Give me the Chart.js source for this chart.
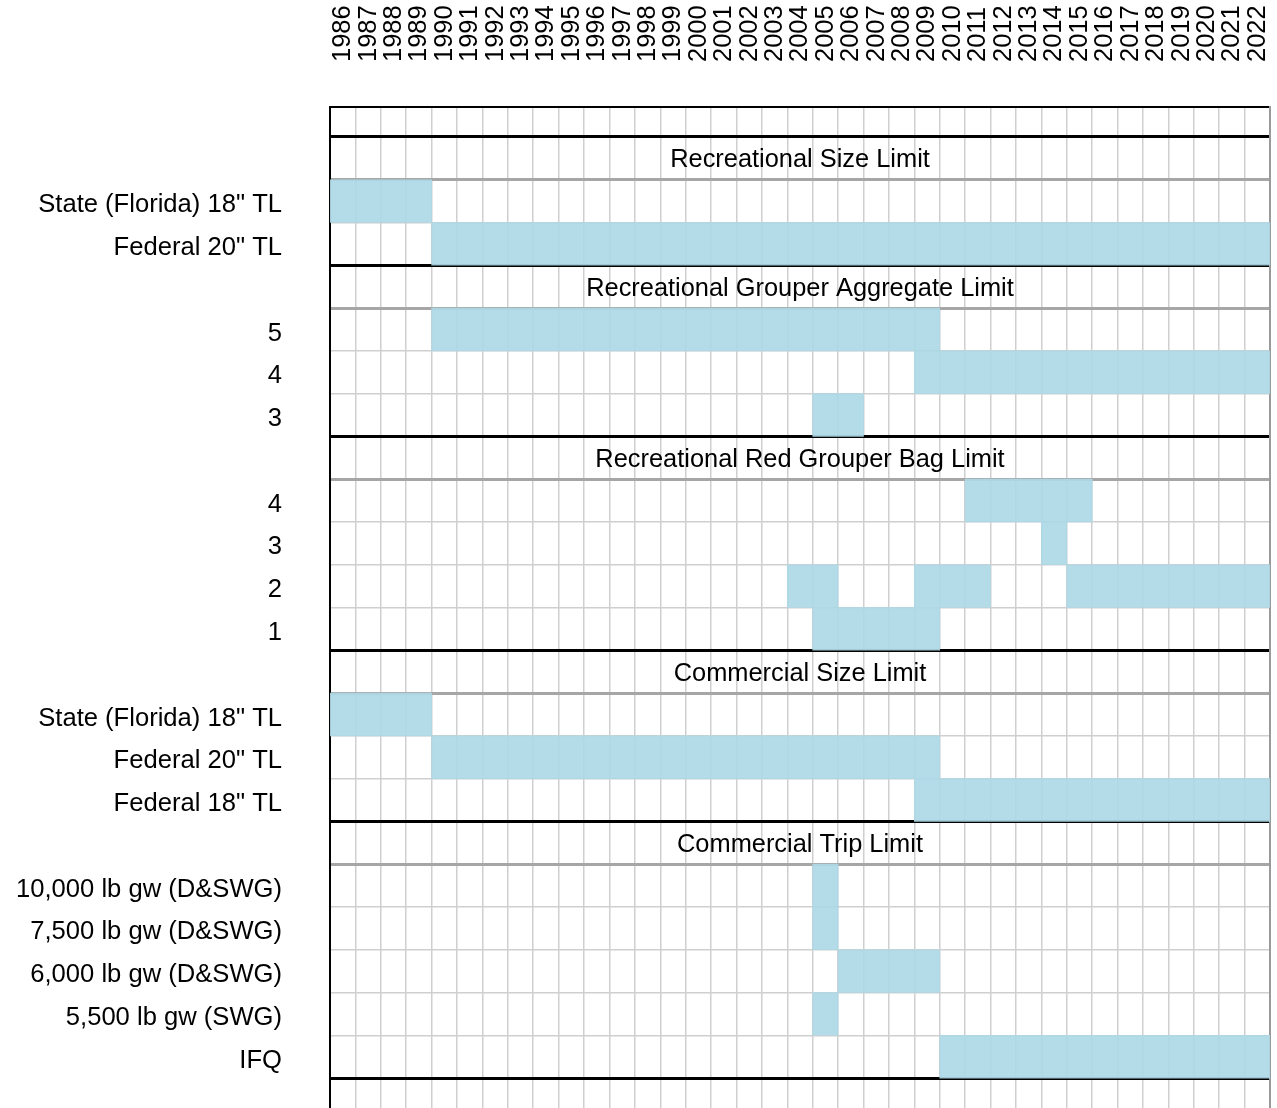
<!DOCTYPE html>
<html><head><meta charset="utf-8">
<script src="https://cdn.jsdelivr.net/npm/chart.js@4/dist/chart.umd.min.js"></script>
<style>html,body{margin:0;padding:0;background:#fff;} canvas{display:block;}</style>
</head><body>
<canvas id="c" width="1277" height="1108"></canvas>
<script>
// ---------- DATA ----------
const yearLabels = ['1986','1987','1988','1989','1990','1991','1992','1993','1994','1995','1996','1997','1998','1999','2000','2001','2002','2003','2004','2005','2006','2007','2008','2009','2010','2011','2012','2013','2014','2015','2016','2017','2018','2019','2020','2021','2022'];

const sectionTitles = ['Recreational Size Limit','Recreational Grouper Aggregate Limit','Recreational Red Grouper Bag Limit','Commercial Size Limit','Commercial Trip Limit'];

const recSizeRows  = ['State (Florida) 18" TL','Federal 20" TL'];
const recSizeSpans = [[[1986,1989]], [[1990,2022]]];

const recAggRows  = ['5','4','3'];
const recAggSpans = [[[1990,2009]], [[2009,2022]], [[2005,2006]]];

const recBagRows  = ['4','3','2','1'];
const recBagSpans = [[[2011,2015]], [[2014,2014]], [[2004,2005],[2009,2011],[2015,2022]], [[2005,2009]]];

const comSizeRows  = ['State (Florida) 18" TL','Federal 20" TL','Federal 18" TL'];
const comSizeSpans = [[[1986,1989]], [[1990,2009]], [[2009,2022]]];

const comTripRows  = ['10,000 lb gw (D&SWG)','7,500 lb gw (D&SWG)','6,000 lb gw (D&SWG)','5,500 lb gw (SWG)','IFQ'];
const comTripSpans = [[[2005,2005]], [[2005,2005]], [[2006,2009]], [[2005,2005]], [[2010,2022]]];

// ---------- BUILD TABLE ----------
const sectionRows  = [recSizeRows, recAggRows, recBagRows, comSizeRows, comTripRows];
const sectionSpans = [recSizeSpans, recAggSpans, recBagSpans, comSizeSpans, comTripSpans];
const rowLabels = [];
const headerRows = [];
const cells = [];
sectionTitles.forEach((title, s) => {
  headerRows.push({row: rowLabels.length, text: title});
  rowLabels.push('');
  sectionRows[s].forEach((lab, r) => {
    const row = rowLabels.length;
    rowLabels.push(lab);
    sectionSpans[s][r].forEach(([a, b]) => cells.push({x: [a - 0.5, b + 0.5], y: row + 0.5}));
  });
});
const nRows = rowLabels.length;
const firstYear = +yearLabels[0];
const lastYear = +yearLabels[yearLabels.length - 1];
const sectionTops = headerRows.map(h => h.row).concat([nRows]);
const headerBottoms = headerRows.map(h => h.row + 1);

const FONT = "'Liberation Sans', Arial, sans-serif";
const Y_MIN = -0.7, Y_MAX = nRows + 0.7;
const tickVal = c => (c && c.tick) ? c.tick.value : null;
const boundaryTicks = s => { s.ticks = Array.from({length: nRows + 1}, (_, i) => ({value: i})); };

const headerTitles = {
  id: 'headerTitles',
  afterDatasetsDraw(chart) {
    const {ctx, chartArea} = chart;
    const ys = chart.scales.y;
    ctx.save();
    ctx.font = '25.4px ' + FONT;
    ctx.fillStyle = '#000';
    ctx.textAlign = 'center';
    ctx.textBaseline = 'middle';
    headerRows.forEach(h => ctx.fillText(h.text, (chartArea.left + chartArea.right) / 2, ys.getPixelForValue(h.row + 0.5) + 2));
    ctx.restore();
  }
};

new Chart(document.getElementById('c'), {
  type: 'bar',
  data: {
    datasets: [{
      data: cells,
      backgroundColor: 'rgba(173,216,230,0.92)',
      borderWidth: 0,
      categoryPercentage: 1,
      barPercentage: 1,
      xAxisID: 'x',
      yAxisID: 'y'
    }]
  },
  options: {
    indexAxis: 'y',
    responsive: false,
    animation: false,
    devicePixelRatio: 1,
    grouped: false,
    events: [],
    layout: {padding: {left: 0, right: 7, top: 0, bottom: 0}},
    plugins: {legend: {display: false}, tooltip: {enabled: false}},
    scales: {
      x: {type: 'linear', display: false, offset: false, min: firstYear - 0.5, max: lastYear + 0.5},
      xTop: {
        type: 'category', position: 'top', labels: yearLabels, offset: true,
        grid: {offset: true, drawTicks: false,
          color: c => c.index === 0 ? '#000' : '#cfcfcf',
          lineWidth: c => c.index === 0 ? 2 : 1.5},
        border: {display: true, color: '#000', width: 2},
        ticks: {minRotation: 90, maxRotation: 90, autoSkip: false, padding: 45, labelOffset: 31, color: '#000',
          font: {family: FONT, size: 25.5}},
        afterFit: s => { s.height = 107; s.paddingLeft = 0; s.paddingRight = 0; }
      },
      y: {
        type: 'linear', position: 'left', reverse: true, offset: false, min: Y_MIN, max: Y_MAX, z: 1,
        afterBuildTicks: s => { s.ticks = rowLabels.map((l, i) => ({value: i + 0.5})); },
        ticks: {autoSkip: false, padding: 40, labelOffset: 4, color: '#000', font: {family: FONT, size: 25.6},
          callback: v => rowLabels[Math.floor(v)] || ''},
        grid: {display: false, offset: false},
        border: {display: true, color: '#000', width: 2},
        afterFit: s => { s.width = 330; s.paddingTop = 0; s.paddingBottom = 0; }
      },
      yThin: {
        type: 'linear', position: 'right', reverse: true, offset: false, min: Y_MIN, max: Y_MAX,
        afterBuildTicks: boundaryTicks,
        ticks: {display: false},
        grid: {drawTicks: false, offset: false, color: '#cfcfcf', lineWidth: 1.5},
        border: {display: false},
        afterFit: s => { s.width = 0; s.paddingTop = 0; s.paddingBottom = 0; }
      },
      yThick: {
        type: 'linear', position: 'right', reverse: true, offset: false, min: Y_MIN, max: Y_MAX, z: 1,
        afterBuildTicks: boundaryTicks,
        ticks: {display: false},
        grid: {drawTicks: false, offset: false,
          color: c => { const v = tickVal(c); return sectionTops.includes(v) ? '#000' : (headerBottoms.includes(v) ? '#a6a6a6' : 'rgba(0,0,0,0)'); },
          lineWidth: c => { const v = tickVal(c); return (sectionTops.includes(v) || headerBottoms.includes(v)) ? 3 : 0; }},
        border: {display: true, color: '#9a9a9a', width: 2},
        afterFit: s => { s.width = 0; s.paddingTop = 0; s.paddingBottom = 0; }
      }
    }
  },
  plugins: [headerTitles]
});
</script>
</body></html>
